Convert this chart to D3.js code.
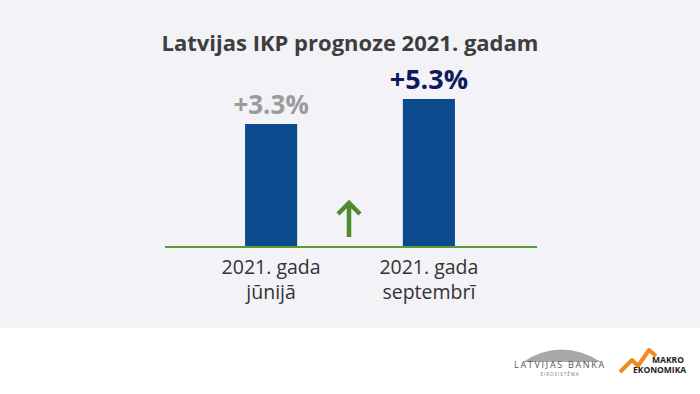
<!DOCTYPE html>
<html>
<head>
<meta charset="utf-8">
<script src="https://cdn.jsdelivr.net/npm/d3@7"></script>
<style>
  body { margin: 0; background: #fff; }
  svg { display: block; }
</style>
</head>
<body>
<div id="chart"></div>
<script>
// data
var categories = ["2021. gada|jūnijā", "2021. gada|septembrī"];
var values = [3.3, 5.3];
var valueLabels = ["+3.3%", "+5.3%"];
var labelColors = ["#9b9b9b", "#0f1a5c"];

var W = 700, H = 394;
var svg = d3.select("#chart").append("svg")
    .attr("width", W)
    .attr("height", H)
    .style("font-family", "'Open Sans', sans-serif");

// panel background
svg.append("rect").attr("width", W).attr("height", 328).attr("fill", "#f2f2f7");

svg.append("text")
    .attr("x", 350).attr("y", 51)
    .attr("text-anchor", "middle")
    .attr("font-size", 22).attr("font-weight", 700)
    .attr("fill", "#3e3e3e")
    .text("Latvijas IKP prognoze 2021. gadam");

var x = d3.scaleBand().domain(categories).range([193, 507]).paddingInner(0.67).paddingOuter(0.33);
// bars are not drawn from zero in the original
var y = d3.scaleLinear().domain([-6.46, 5.3]).range([246, 99]);

svg.selectAll("rect.bar")
    .data(values)
    .enter()
    .append("rect")
    .attr("class", "bar")
    .attr("x", function(d, i){ return x(categories[i]); })
    .attr("width", x.bandwidth())
    .attr("y", function(d){ return y(d); })
    .attr("height", function(d){ return y.range()[0] - y(d); })
    .attr("fill", "#0b4a8c");

svg.selectAll("text.val")
    .data(values)
    .enter()
    .append("text")
    .attr("class", "val")
    .attr("x", function(d, i){ return x(categories[i]) + x.bandwidth() / 2; })
    .attr("y", function(d){ return y(d) - 10; })
    .attr("text-anchor", "middle")
    .attr("font-weight", 700)
    .attr("font-size", function(d, i){ return i == 1 ? 27 : 26; })
    .attr("fill", function(d, i){ return labelColors[i]; })
    .text(function(d, i){ return valueLabels[i]; });

// baseline
svg.append("line")
    .attr("x1", 165).attr("x2", 537)
    .attr("y1", 247).attr("y2", 247)
    .attr("stroke", "#5c9b3c").attr("stroke-width", 2);

// up arrow
svg.append("path")
    .attr("d", "M349,237 L349,203 M338,214 L349,203 L360,214")
    .attr("fill", "none")
    .attr("stroke", "#4f8a2e").attr("stroke-width", 4.5)
    .attr("stroke-linecap", "butt").attr("stroke-linejoin", "miter");

// category labels
categories.forEach(function(c, i){
    var t = svg.append("text")
        .attr("x", x(c) + x.bandwidth() / 2)
        .attr("y", 274)
        .attr("text-anchor", "middle")
        .attr("font-size", 19.5)
        .attr("fill", "#333");
    c.split("|").forEach(function(line, j){
        t.append("tspan").attr("x", x(c) + x.bandwidth() / 2).attr("dy", j ? 25 : 0).text(line);
    });
});

// Latvijas Banka logo
svg.append("path")
    .attr("d", "M523,362 Q561,337 601,362 Z")
    .attr("fill", "#a9a9a9");
svg.append("text")
    .attr("x", 560).attr("y", 368)
    .attr("text-anchor", "middle")
    .attr("font-size", 9).attr("letter-spacing", 1.7)
    .attr("fill", "#555")
    .text("LATVIJAS BANKA");
svg.append("text")
    .attr("x", 560).attr("y", 376)
    .attr("text-anchor", "middle")
    .attr("font-size", 4.5).attr("letter-spacing", 1)
    .attr("fill", "#777")
    .text("EIROSISTĒMA");

// Makro Ekonomika logo
svg.append("path")
    .attr("d", "M620,372 L632,360 L638,366 L649,350 L656,356")
    .attr("fill", "none")
    .attr("stroke", "#f08a1c").attr("stroke-width", 4)
    .attr("stroke-linejoin", "round");
svg.append("text")
    .attr("x", 652).attr("y", 363)
    .attr("font-size", 8.5).attr("font-weight", 700)
    .attr("fill", "#222")
    .text("MAKRO");
svg.append("text")
    .attr("x", 633).attr("y", 373)
    .attr("font-size", 8.5).attr("font-weight", 700)
    .attr("fill", "#222")
    .text("EKONOMIKA");
</script>
</body>
</html>
